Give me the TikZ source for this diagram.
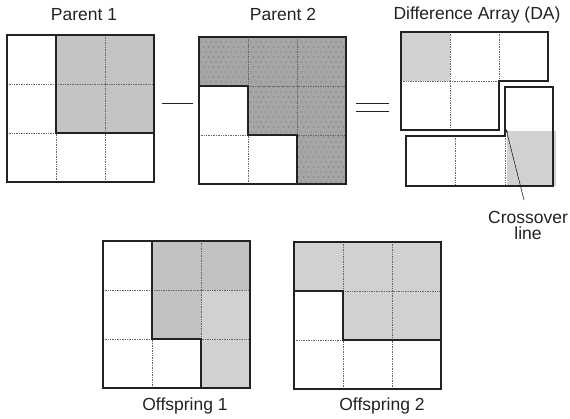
\documentclass[tikz,border=0pt]{standalone}
\usepackage{fontspec}
\setmainfont{Liberation Sans}
\usetikzlibrary{arrows.meta}

\definecolor{ink}{HTML}{222222}
\definecolor{parentgray}{HTML}{C4C4C4}
\definecolor{dotgray}{HTML}{A6A6A6}
\definecolor{dotink}{HTML}{6E6E6E}
\definecolor{darkcell}{HTML}{C2C2C2}
\definecolor{lightcell}{HTML}{D1D1D1}

\begin{document}
\begin{tikzpicture}[x=1pt, y=1pt,
  lbl/.style={font=\fontsize{17.5}{16}\selectfont, text=ink, inner sep=0pt},
  frame/.style={draw=ink, line width=1.8pt, line join=miter},
  cut/.style={draw=ink, line width=1.8pt, line join=miter},
  gridline/.style={draw=black!60, line width=0.6pt, dash pattern=on 0.8pt off 0.9pt},
  sign/.style={draw=ink, line width=0.9pt},
  pointer/.style={draw=ink, line width=0.6pt, -{Stealth[length=4pt, width=2.6pt]}}
]
\useasboundingbox (0,0) rectangle (570,418);

% parent 1
\fill[parentgray] (56,383) rectangle (154,285);
\foreach \x in {56,105} \draw[gridline] (\x,383) -- (\x,236);
\foreach \y in {334,285} \draw[gridline] (7,\y) -- (154,\y);
\draw[cut] (56,383) -- (56,285) -- (154,285);
\draw[frame] (7,236) rectangle (154,383);
\node[lbl, anchor=base] (par1) at (84,397) {Parent 1};

\draw[sign] (162,315) -- (193,315);

% parent 2, dotted fill
\begin{scope}
  \clip (199,381) -- (346,381) -- (346,234) -- (297,234) -- (297,283)
        -- (248,283) -- (248,332) -- (199,332) -- cycle;
  \fill[dotgray] (199,234) rectangle (346,381);
  \foreach \j in {0,...,29} {
    \pgfmathsetmacro\off{mod(\j,2)*2.5}
    \foreach \i in {0,...,29}
      \fill[dotink] ({201+\i*5+\off},{236+\j*5}) circle (0.55pt);
  }
\end{scope}
\foreach \x in {248,297} \draw[gridline] (\x,381) -- (\x,234);
\foreach \y in {332,283} \draw[gridline] (199,\y) -- (346,\y);
\draw[cut] (199,332) -- (248,332) -- (248,283) -- (297,283) -- (297,234);
\draw[frame] (199,234) rectangle (346,381);
\node[lbl, anchor=base] (par2) at (283,397) {Parent 2};

\draw[sign] (356,315) -- (389,315);
\draw[sign] (356,307) -- (389,307);

% difference array, cut in two pieces
\fill[lightcell] (401,386) rectangle (450,337);
\fill[lightcell] (507,287) rectangle (556,232);
\draw[gridline] (450,386) -- (450,288);
\draw[gridline] (499,386) -- (499,337);
\draw[gridline] (401,337) -- (499,337);
\draw[gridline] (455,282) -- (455,232);
\draw[gridline] (505,282) -- (505,232);
\draw[frame] (401,386) -- (548,386) -- (548,337) -- (499,337) -- (499,288)
  -- (401,288) -- cycle;
\draw[frame] (406,282) -- (505,282) -- (505,331) -- (553,331) -- (553,232)
  -- (406,232) -- cycle;
\node[lbl, anchor=base] (diff) at (477,398) {Difference Array (DA)};

\coordinate (xpoint) at (506,289);
\node[lbl, align=center, anchor=north] (xover) at (528,207) {Crossover\\line};
\draw[pointer] ([shift={(-4pt,11pt)}]xover.north) -- (xpoint);

% offspring 1
\fill[darkcell] (152,177) -- (250,177) -- (250,128) -- (201,128) -- (201,79)
  -- (152,79) -- cycle;
\fill[lightcell] (201,128) rectangle (250,30);
\foreach \x in {152,201} \draw[gridline] (\x,177) -- (\x,30);
\foreach \y in {128,79} \draw[gridline] (103,\y) -- (250,\y);
\draw[cut] (152,177) -- (152,79) -- (201,79) -- (201,30);
\draw[frame] (103,30) rectangle (250,177);
\node[lbl, anchor=base] (off1) at (185,8) {Offspring 1};

% offspring 2
\fill[lightcell] (294,176) -- (441,176) -- (441,78) -- (343,78) -- (343,127)
  -- (294,127) -- cycle;
\foreach \x in {343,392} \draw[gridline] (\x,176) -- (\x,29);
\foreach \y in {127,78} \draw[gridline] (294,\y) -- (441,\y);
\draw[cut] (294,127) -- (343,127) -- (343,78) -- (441,78);
\draw[frame] (294,29) rectangle (441,176);
\node[lbl, anchor=base] (off2) at (382,8) {Offspring 2};
\end{tikzpicture}
\end{document}
